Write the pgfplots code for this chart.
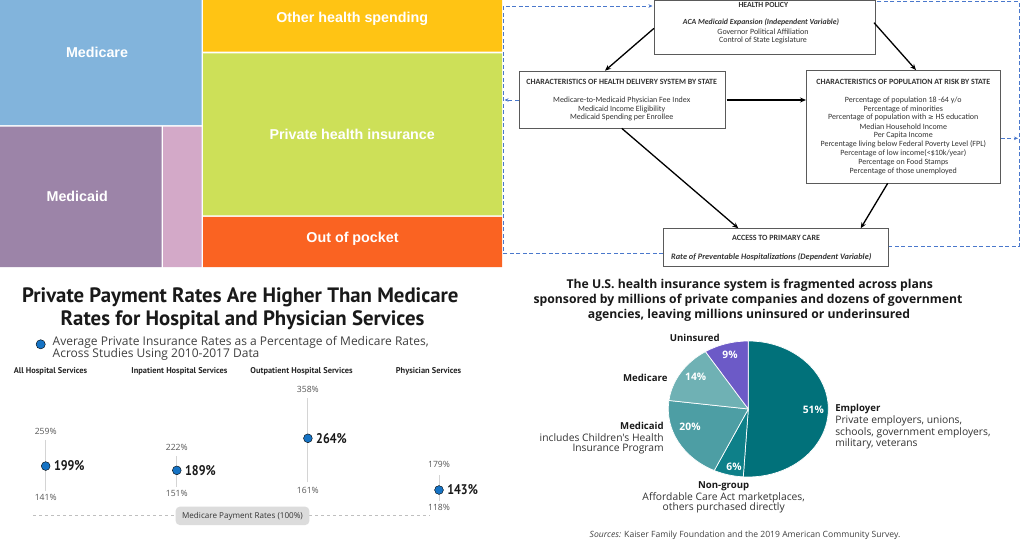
\documentclass[border=0pt]{standalone}
\usepackage{pgfplots}
\pgfplotsset{compat=1.18}
\usetikzlibrary{arrows.meta}
\usepackage{fontspec}
\setmainfont{Liberation Sans}
\newfontfamily\pts{PT Sans}
\newfontfamily\opens{Open Sans}
\newfontfamily\carl{Carlito}
\newfontfamily\dejavu{DejaVu Sans}
\newcommand\fs[1]{\fontsize{#1}{#1}\selectfont}
\definecolor{tmBlue}{HTML}{82B4DC}
\definecolor{tmPurple}{HTML}{9C84A8}
\definecolor{tmPink}{HTML}{D3A9C8}
\definecolor{tmYellow}{HTML}{FFC414}
\definecolor{tmGreen}{HTML}{CDE058}
\definecolor{tmOrange}{HTML}{FA6322}
\definecolor{dashBlue}{HTML}{4A78CC}
\definecolor{boxGray}{HTML}{5A5A5A}
\definecolor{dgText}{HTML}{333333}
\definecolor{dotBlue}{HTML}{1673C4}
\definecolor{wGray}{HTML}{D4D4D4}
\definecolor{lblGray}{HTML}{555555}
\definecolor{pillGray}{HTML}{DCDCDC}
\definecolor{pEmp}{HTML}{01717A}
\definecolor{pNon}{HTML}{0E8089}
\definecolor{pMcd}{HTML}{4D9EA4}
\definecolor{pMcr}{HTML}{6FB1B4}
\definecolor{pUni}{HTML}{6C5AC7}
% pie shares (%)
\def\pEmpV{51}\def\pNonV{6}\def\pMcdV{20}\def\pMcrV{14}\def\pUniV{9}
\pgfmathsetmacro\aA{90-3.6*\pEmpV}
\pgfmathsetmacro\aB{\aA-3.6*\pNonV}
\pgfmathsetmacro\aC{\aB-3.6*\pMcdV}
\pgfmathsetmacro\aD{\aC-3.6*\pMcrV}
\pgfmathsetmacro\aE{\aD-3.6*\pUniV}
\newcommand\bigpct[1]{\scalebox{0.86}[1]{#1}}
\begin{document}
\begin{tikzpicture}[lbl/.style={inner sep=0pt, outer sep=0pt}]
\useasboundingbox (0,0) rectangle (1024pt,542pt);
\fill[white] (0,0) rectangle (1024pt,542pt);

% ---------------- dot / range chart ----------------
\begin{axis}[at={(6.37pt,12.26pt)}, anchor=south west, scale only axis,
  width=498.18pt, height=149.56pt, xmin=-0.3, xmax=3.5, ymin=50, ymax=400,
  hide axis, clip=false]
\addplot[wGray, line width=1pt] coordinates {(0,141) (0,259)};
\addplot[wGray, line width=1pt] coordinates {(1,151) (1,222)};
\addplot[wGray, line width=1pt] coordinates {(2,161) (2,358)};
\addplot[wGray, line width=1pt] coordinates {(3,118) (3,179)};
\addplot[only marks, mark=*, mark size=4.4pt, draw=none, fill=dotBlue, mark options={draw=none}]
  coordinates {(0,199) (1,189) (2,264) (3,143)};
\begin{scope}[every node/.style={lbl, text=lblGray, font=\opens\fs{8.6}}]
\node at (axis cs:0,259) [yshift=9.5pt] {259\%};
\node at (axis cs:0,141) [yshift=-6.5pt] {141\%};
\node at (axis cs:1,222) [yshift=9pt] {222\%};
\node at (axis cs:1,151) [yshift=-7pt] {151\%};
\node at (axis cs:2,358) [yshift=9pt] {358\%};
\node at (axis cs:2,161) [yshift=-7.7pt] {161\%};
\node at (axis cs:3,179) [yshift=10.5pt] {179\%};
\node at (axis cs:3,118) [yshift=-6.6pt] {118\%};
\end{scope}
\begin{scope}[every node/.style={lbl, anchor=west, text=black!90, font=\pts\bfseries\fs{14}}]
\node at (axis cs:0,199) [xshift=8.3pt] {\bigpct{199\%}};
\node at (axis cs:1,189) [xshift=8.3pt] {\bigpct{189\%}};
\node at (axis cs:2,264) [xshift=8.3pt] {\bigpct{264\%}};
\node at (axis cs:3,143) [xshift=8.3pt] {\bigpct{143\%}};
\end{scope}
\end{axis}

% ---------------- pie chart ----------------
\begin{axis}[at={(668.3pt,65pt)}, anchor=south west, scale only axis,
  width=160pt, height=136pt, xmin=-80, xmax=80, ymin=-68, ymax=68,
  hide axis, clip=false]
\filldraw[fill=pEmp, draw=white, line width=0.7pt] (axis cs:0,0) -- (axis cs:0,68)
  arc[start angle=90, end angle=\aA, x radius=80pt, y radius=68pt] -- cycle;
\filldraw[fill=pNon, draw=white, line width=0.7pt] (axis cs:0,0) -- (axis cs:{80*cos(\aA)},{68*sin(\aA)})
  arc[start angle=\aA, end angle=\aB, x radius=80pt, y radius=68pt] -- cycle;
\filldraw[fill=pMcd, draw=white, line width=0.7pt] (axis cs:0,0) -- (axis cs:{80*cos(\aB)},{68*sin(\aB)})
  arc[start angle=\aB, end angle=\aC, x radius=80pt, y radius=68pt] -- cycle;
\filldraw[fill=pMcr, draw=white, line width=0.7pt] (axis cs:0,0) -- (axis cs:{80*cos(\aC)},{68*sin(\aC)})
  arc[start angle=\aC, end angle=\aD, x radius=80pt, y radius=68pt] -- cycle;
\filldraw[fill=pUni, draw=white, line width=0.7pt] (axis cs:0,0) -- (axis cs:{80*cos(\aD)},{68*sin(\aD)})
  arc[start angle=\aD, end angle=\aE, x radius=80pt, y radius=68pt] -- cycle;
\end{axis}

% ---------------- canvas (pixel coordinates) ----------------
\begin{axis}[at={(0pt,0pt)}, anchor=south west, scale only axis,
  width=1024pt, height=542pt, xmin=0, xmax=1024, ymin=0, ymax=542,
  y dir=reverse, hide axis, clip=false]
% treemap
\addplot[fill=tmBlue, draw=none] coordinates {(0,0) (201.5,0) (201.5,125) (0,125) (0,0)};
\addplot[fill=tmPurple, draw=none] coordinates {(0,126.5) (161.5,126.5) (161.5,267) (0,267) (0,126.5)};
\addplot[fill=tmPink, draw=none] coordinates {(163,126.5) (201.5,126.5) (201.5,267) (163,267) (163,126.5)};
\addplot[fill=tmYellow, draw=none] coordinates {(203,0) (502,0) (502,51.7) (203,51.7) (203,0)};
\addplot[fill=tmGreen, draw=none] coordinates {(203,53.3) (502,53.3) (502,215.3) (203,215.3) (203,53.3)};
\addplot[fill=tmOrange, draw=none] coordinates {(203,216.8) (502,216.8) (502,267) (203,267) (203,216.8)};
\begin{scope}[every node/.style={lbl, text=white, font=\bfseries\fs{14.3}}]
\node at (axis cs:97,52.3) {Medicare};
\node at (axis cs:77.2,196) {Medicaid};
\node at (axis cs:352.2,19) {Other health spending};
\node at (axis cs:352.2,134.3) {Private health insurance};
\node at (axis cs:352.5,239) {Out of pocket};
\end{scope}

% diagram: dashed feedback lines
\begin{scope}[dashBlue, line width=0.9pt, dash pattern=on 4pt off 2.5pt]
\draw[-{Stealth[length=4pt,width=3.5pt]}] (axis cs:663.3,253.3) -- (axis cs:503.5,253.3) -- (axis cs:503.5,6) -- (axis cs:652.5,6);
\draw (axis cs:888.3,246.7) -- (axis cs:1019,246.7) -- (axis cs:1019,1.5) -- (axis cs:875,1.5);
\draw[-{Stealth[length=4pt,width=3.5pt]}] (axis cs:518.5,100) -- (axis cs:504.5,100);
\draw[-{Stealth[length=4pt,width=3.5pt]}] (axis cs:1000.5,138.3) -- (axis cs:1018,138.3);
\end{scope}
% diagram: boxes
\begin{scope}[boxGray, line width=0.8pt]
\filldraw[fill=white] (axis cs:654,0.4) rectangle (axis cs:875,54);
\filldraw[fill=white] (axis cs:519,71) rectangle (axis cs:725.7,128.3);
\filldraw[fill=white] (axis cs:806.7,70) rectangle (axis cs:1000,183.3);
\filldraw[fill=white] (axis cs:663.3,228.3) rectangle (axis cs:888.3,266);
\end{scope}
% diagram: arrows
\begin{scope}[black, line width=1.3pt, -{Stealth[length=6pt,width=5pt]}]
\draw (axis cs:654,28.3) -- (axis cs:605,70.7);
\draw (axis cs:874,22.7) -- (axis cs:916,70);
\draw (axis cs:726.7,100) -- (axis cs:806,100);
\draw (axis cs:621.7,128.3) -- (axis cs:738.3,228.3);
\draw (axis cs:887.7,183.3) -- (axis cs:860.7,228.3);
\end{scope}
% diagram: text
\begin{scope}[every node/.style={lbl, text=dgText, font=\carl\fs{8}}]
\node[font=\carl\bfseries\fs{7.8}] at (axis cs:763.3,5) {HEALTH POLICY};
\node[font=\carl\bfseries\itshape\fs{7.8}] at (axis cs:761,22.7) {ACA Medicaid Expansion (Independent Variable)};
\node at (axis cs:763,31.7) {Governor Political Affiliation};
\node at (axis cs:763,40.7) {Control of State Legislature};
\node[font=\carl\bfseries\fs{8}] at (axis cs:621.7,81.7) {CHARACTERISTICS OF HEALTH DELIVERY SYSTEM BY STATE};
\node at (axis cs:621.7,100) {Medicare-to-Medicaid Physician Fee Index};
\node at (axis cs:621.7,109) {Medicaid Income Eligibility};
\node at (axis cs:621.7,117.5) {Medicaid Spending per Enrollee};
\node[font=\carl\bfseries\fs{8}] at (axis cs:903.3,81.7) {CHARACTERISTICS OF POPULATION AT RISK BY STATE};
\node at (axis cs:903.3,100) {Percentage of population 18 -64 y/o};
\node at (axis cs:903.3,109) {Percentage of minorities};
\node at (axis cs:903.3,117.5) {Percentage of population with {\dejavu\fs{6.8}≥} HS education};
\node at (axis cs:903.3,126.3) {Median Household Income};
\node at (axis cs:903.3,135.5) {Per Capita Income};
\node at (axis cs:903.3,144.3) {Percentage living below Federal Poverty Level (FPL)};
\node at (axis cs:903.3,153.3) {Percentage of low income(<\$10k/year)};
\node at (axis cs:903.3,162.5) {Percentage on Food Stamps};
\node at (axis cs:903.3,171.5) {Percentage of those unemployed};
\node[font=\carl\bfseries\fs{8}] at (axis cs:776,238.3) {ACCESS TO PRIMARY CARE};
\node[font=\carl\bfseries\itshape\fs{8.3}] at (axis cs:771.3,256.7) {Rate of Preventable Hospitalizations (Dependent Variable)};
\end{scope}

% dot chart: titles, headers, baseline
\node[lbl, font=\pts\bfseries\fs{20.8}, text=black!90] at (axis cs:240.3,297) {Private Payment Rates Are Higher Than Medicare};
\node[lbl, font=\pts\bfseries\fs{20.8}, text=black!90] at (axis cs:242.6,320) {Rates for Hospital and Physician Services};
\addplot[only marks, mark=*, mark size=4.6pt, mark options={draw=none, fill=dotBlue}] coordinates {(40.7,344.3)};
\node[lbl, anchor=base west, font=\opens\fs{12}, text=black!75] at (axis cs:52.7,345.7) {Average Private Insurance Rates as a Percentage of Medicare Rates,};
\node[lbl, anchor=base west, font=\opens\fs{12}, text=black!75] at (axis cs:52.7,357.8) {Across Studies Using 2010-2017 Data};
\begin{scope}[every node/.style={lbl, text=black!85, font=\pts\bfseries\fs{8.4}}]
\node at (axis cs:50.5,371) {All Hospital Services};
\node at (axis cs:179.5,371) {Inpatient Hospital Services};
\node at (axis cs:301.5,371) {Outpatient Hospital Services};
\node at (axis cs:428.5,371) {Physician Services};
\end{scope}
\draw[black!25, line width=1pt, dash pattern=on 3pt off 3pt] (axis cs:33,515.7) -- (axis cs:430,515.7);
\fill[pillGray, rounded corners=4pt] (axis cs:175.7,506.7) rectangle (axis cs:309.3,525);
\node[lbl, font=\opens\fs{8.1}, text=black!80] at (axis cs:242.5,516) {Medicare Payment Rates (100\%)};

% pie chart texts
\begin{scope}[every node/.style={lbl, text=black!90, font=\opens\bfseries\fs{12.2}}]
\node at (axis cs:749.8,285) {The U.S. health insurance system is fragmented across plans};
\node at (axis cs:748,300) {sponsored by millions of private companies and dozens of government};
\node at (axis cs:749,315) {agencies, leaving millions uninsured or underinsured};
\end{scope}
\begin{scope}[every node/.style={lbl, text=white, font=\opens\bfseries\fs{10.3}}]
\node at (axis cs:730,355) {9\%};
\node at (axis cs:695.7,377.3) {14\%};
\node at (axis cs:690,427.3) {20\%};
\node at (axis cs:734,466.7) {6\%};
\node at (axis cs:813.3,410) {51\%};
\end{scope}
\begin{scope}[every node/.style={lbl, text=black!90, font=\opens\bfseries\fs{9.6}}]
\node at (axis cs:694.8,337.7) {Uninsured};
\node at (axis cs:645.3,377.7) {Medicare};
\node[anchor=east] at (axis cs:663.7,426) {Medicaid};
\node[anchor=west] at (axis cs:835.3,409.3) {Employer};
\node at (axis cs:723.7,486) {Non-group};
\end{scope}
\begin{scope}[every node/.style={lbl, text=black!80, font=\opens\fs{10.3}}]
\node[anchor=east] at (axis cs:663.7,437.7) {includes Children's Health};
\node[anchor=east] at (axis cs:663.7,449.3) {Insurance Program};
\node[anchor=west] at (axis cs:835.3,421) {Private employers, unions,};
\node[anchor=west] at (axis cs:835.3,432.7) {schools, government employers,};
\node[anchor=west] at (axis cs:835.3,443.7) {military, veterans};
\node at (axis cs:723.7,498) {Affordable Care Act marketplaces,};
\node at (axis cs:723.7,507.7) {others purchased directly};
\end{scope}
\node[lbl, font=\opens\fs{8.6}, text=black!75] at (axis cs:745,535.7) {\textit{Sources:} Kaiser Family Foundation and the 2019 American Community Survey.};
\end{axis}
\end{tikzpicture}
\end{document}
